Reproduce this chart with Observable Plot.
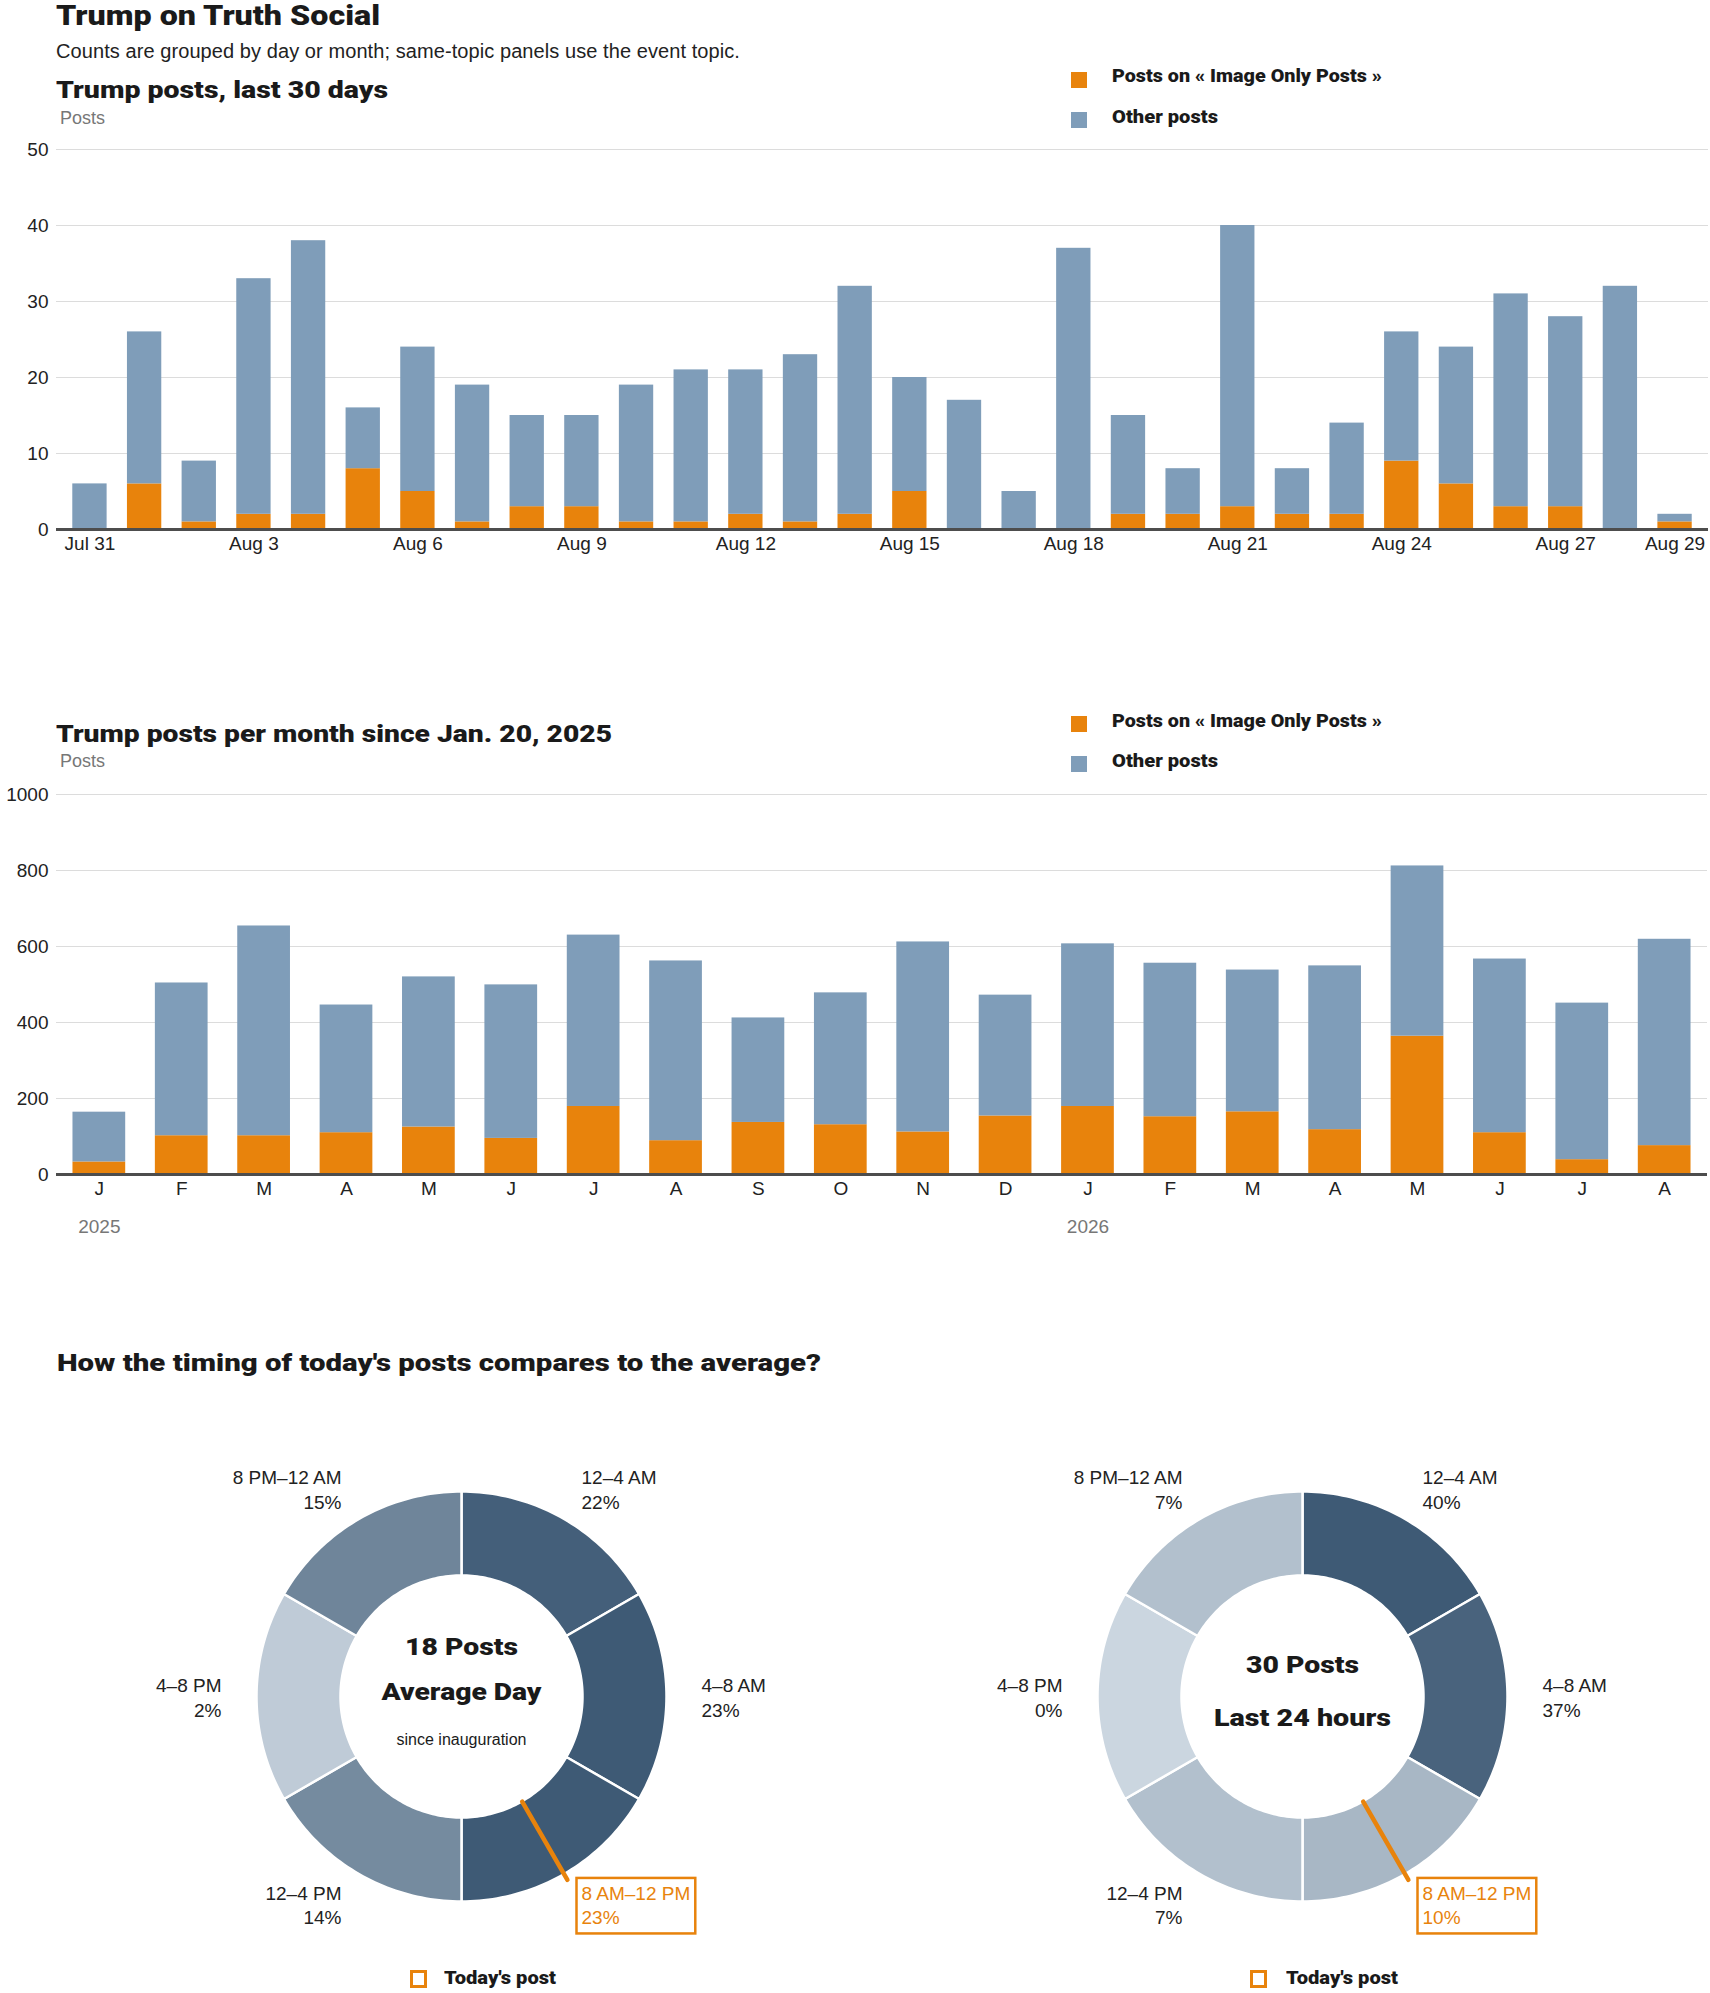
<!DOCTYPE html>
<html><head><meta charset="utf-8">
<script src="https://cdn.jsdelivr.net/npm/d3@7"></script>
<script src="https://cdn.jsdelivr.net/npm/@observablehq/plot@0.6"></script>
<style>
body{margin:0;background:#fff;}
#page{position:relative;width:1710px;height:1993px;overflow:hidden;font-family:"Liberation Sans",Arial,sans-serif;color:#222;}
.t{position:absolute;white-space:nowrap;line-height:1;}
.h{font-family:Roboto,"Liberation Sans",sans-serif;font-weight:900;color:#1a1a1a;}
.sw{position:absolute;width:16px;height:16px;}
.box{position:absolute;width:17px;height:18px;box-sizing:border-box;border:3px solid #e8830c;}
.plotwrap{position:absolute;}
</style></head><body><div id="page"></div>
<script>
// ---------- data ----------
const days = ["Jul 31","Aug 1","Aug 2","Aug 3","Aug 4","Aug 5","Aug 6","Aug 7","Aug 8","Aug 9","Aug 10","Aug 11","Aug 12","Aug 13","Aug 14","Aug 15","Aug 16","Aug 17","Aug 18","Aug 19","Aug 20","Aug 21","Aug 22","Aug 23","Aug 24","Aug 25","Aug 26","Aug 27","Aug 28","Aug 29"];
const dayTicks = ["Jul 31","Aug 3","Aug 6","Aug 9","Aug 12","Aug 15","Aug 18","Aug 21","Aug 24","Aug 27","Aug 29"];
const imagePostsDaily = [0,6,1,2,2,8,5,1,3,3,1,1,2,1,2,5,0,0,0,2,2,3,2,2,9,6,3,3,0,1];
const otherPostsDaily = [6,20,8,31,36,8,19,18,12,12,18,20,19,22,30,15,17,5,37,13,6,37,6,12,17,18,28,25,32,1];
const dailyTicksY = [0,10,20,30,40,50];

const monthKeys = ["2025-01","2025-02","2025-03","2025-04","2025-05","2025-06","2025-07","2025-08","2025-09","2025-10","2025-11","2025-12","2026-01","2026-02","2026-03","2026-04","2026-05","2026-06","2026-07","2026-08"];
const monthLetters = ["J","F","M","A","M","J","J","A","S","O","N","D","J","F","M","A","M","J","J","A"];
const imagePostsMonthly = [33,102,102,110,125,95,179,89,137,131,112,154,179,152,165,118,364,110,39,76];
const otherPostsMonthly = [131,402,552,336,395,404,451,473,275,347,500,318,428,404,373,431,448,457,412,543];
const monthlyTicksY = [0,200,400,600,800,1000];
const yearKeys = ["2025-01","2026-01"];
const yearLabels = ["2025","2026"];

const slots = ["12–4 AM","4–8 AM","8 AM–12 PM","12–4 PM","4–8 PM","8 PM–12 AM"];
const avgShare = [22,23,23,14,2,15];
const last24Share = [40,37,10,7,0,7];
const avgPostsPerDay = 18;
const last24Posts = 30;
const todaySlot = "8 AM–12 PM";
const todayPostHour = 10;

const ORANGE = "#e8830c", BLUE = "#7f9db9";
const HEAVY = "Roboto, 'Liberation Sans', sans-serif";
const page = document.getElementById("page");

// ---------- helpers ----------
function T(str, x, base, size, cls, color, target){
  const d = document.createElement("div");
  const heavy = (cls||"").includes("h");
  d.className = "t " + (cls||"");
  const k = heavy ? 0.842 : 0.8465;
  d.style.left = x + "px";
  d.style.top = (base - k*size) + "px";
  d.style.fontSize = size + "px";
  if (color) d.style.color = color;
  d.textContent = str;
  page.appendChild(d);
  if (target){
    const w = d.getBoundingClientRect().width;
    if (heavy){
      const f = Math.max(0.85, Math.min(1.3, target / w));
      d.style.transformOrigin = "0 0";
      d.style.transform = `scaleX(${f})`;
    } else {
      const ls = Math.max(-1.5, Math.min(2.5, (target - w)/str.length));
      d.style.letterSpacing = ls + "px";
    }
  }
  return d;
}
function SW(x, y, color, cls){
  const d = document.createElement("div");
  d.className = cls || "sw";
  d.style.left = x + "px"; d.style.top = y + "px";
  if (color) d.style.background = color;
  page.appendChild(d);
}
function place(svg, x, y){
  const w = document.createElement("div");
  w.className = "plotwrap"; w.style.left = x + "px"; w.style.top = y + "px";
  w.appendChild(svg); page.appendChild(w);
}
const baseStyle = {fontFamily:"'Liberation Sans', Arial, sans-serif", fontSize:"19px", color:"#222", background:"transparent", overflow:"visible"};

// ---------- headings ----------
T("Trump on Truth Social", 56, 26, 28, "h", null, 324);
T("Counts are grouped by day or month; same-topic panels use the event topic.", 56, 58, 20, "", null, 684);
T("Trump posts, last 30 days", 56, 98, 24, "h", null, 332);
T("Posts", 60, 124, 18, "", "#777");
SW(1071, 72, ORANGE); T("Posts on « Image Only Posts »", 1112, 82.5, 18, "h", null, 270);
SW(1071, 112, BLUE); T("Other posts", 1112, 123, 18, "h", null, 106);

// ---------- chart 1 ----------
const rows1 = days.flatMap((d,i) => [
  {day:d, type:"image", n:imagePostsDaily[i]},
  {day:d, type:"other", n:otherPostsDaily[i]}
]);
const chart1 = Plot.plot({
  width:1710, height:429, marginTop:19, marginBottom:30, marginLeft:56, marginRight:2,
  style: baseStyle,
  x:{domain:days, paddingInner:0.372, paddingOuter:0.298, round:false, label:null},
  y:{domain:[0,50], label:null},
  color:{domain:["image","other"], range:[ORANGE, BLUE]},
  marks:[
    Plot.gridY(dailyTicksY.slice(1), {stroke:"#dcdcdc", strokeOpacity:1}),
    Plot.axisY({ticks:dailyTicksY, tickSize:0, tickPadding:8, label:null, tickFormat:d3.format("d")}),
    Plot.axisX({ticks:dayTicks, tickSize:0, tickPadding:6.5, label:null}),
    Plot.barY(rows1, {x:"day", y:"n", fill:"type"}),
    Plot.ruleY([0], {stroke:"#4d4d4d", strokeWidth:3})
  ]
});
place(chart1, 0, 130);

// ---------- chart 2 ----------
T("Trump posts per month since Jan. 20, 2025", 56, 742, 24, "h", null, 556);
T("Posts", 60, 767, 18, "", "#777");
SW(1071, 716, ORANGE); T("Posts on « Image Only Posts »", 1112, 727, 18, "h", null, 270);
SW(1071, 756, BLUE); T("Other posts", 1112, 767, 18, "h", null, 106);

const rows2 = monthKeys.flatMap((m,i) => [
  {month:m, type:"image", n:imagePostsMonthly[i]},
  {month:m, type:"other", n:otherPostsMonthly[i]}
]);
const years = yearKeys.map((k,i) => ({month:k, label:yearLabels[i]}));
const chart2 = Plot.plot({
  width:1710, height:470, marginTop:20, marginBottom:70, marginLeft:56, marginRight:3,
  style: baseStyle,
  x:{domain:monthKeys, paddingInner:0.36, paddingOuter:0.2, round:false, label:null},
  y:{domain:[0,1000], label:null},
  color:{domain:["image","other"], range:[ORANGE, BLUE]},
  marks:[
    Plot.gridY(monthlyTicksY.slice(1), {stroke:"#dcdcdc", strokeOpacity:1}),
    Plot.axisY({ticks:monthlyTicksY, tickSize:0, tickPadding:8, label:null, tickFormat:d3.format("d")}),
    Plot.axisX({tickSize:0, tickPadding:6.5, label:null, tickFormat:d => monthLetters[monthKeys.indexOf(d)]}),
    Plot.barY(rows2, {x:"month", y:"n", fill:"type"}),
    Plot.ruleY([0], {stroke:"#4d4d4d", strokeWidth:3}),
    Plot.text(years, {x:"month", y:() => 0, text:"label", fill:"#777", fontSize:19, dy:52.4})
  ]
});
place(chart2, 0, 774);

// ---------- donuts ----------
T("How the timing of today's posts compares to the average?", 57, 1371, 24, "h", null, 764);

const PX = 205;              // pixels per unit radius
const W = 800, H = 560;
const R_IN = 121/205, R_OUT = 1, R_LAB = 240/205;
function donut(shares, centerTexts){
  const max = d3.max(shares);
  const pts = [];
  slots.forEach((s,i) => {
    const a0 = i*60, a1 = (i+1)*60, N = 48;
    for (let k=0;k<=N;k++){ const a=(a0+(a1-a0)*k/N)*Math.PI/180; pts.push({slot:s, share:shares[i], x:R_OUT*Math.sin(a), y:R_OUT*Math.cos(a)}); }
    for (let k=N;k>=0;k--){ const a=(a0+(a1-a0)*k/N)*Math.PI/180; pts.push({slot:s, share:shares[i], x:R_IN*Math.sin(a), y:R_IN*Math.cos(a)}); }
  });
  const labels = slots.map((s,i) => {
    const a = (i+0.5)*60*Math.PI/180;
    return {slot:s, text:`${s}\n${shares[i]}%`, x:R_LAB*Math.sin(a), y:R_LAB*Math.cos(a)};
  });
  const needleA = todayPostHour/24*2*Math.PI;
  const needle = [{x1:0.592*Math.sin(needleA), y1:0.592*Math.cos(needleA), x2:1.033*Math.sin(needleA), y2:1.033*Math.cos(needleA)}];
  const plain = labels.filter(d => d.slot !== todaySlot);
  const LBL = {x:"x", y:"y", text:"text", fontSize:19, lineHeight:1.29};
  const svg = Plot.plot({
    width:W, height:H, margin:0,
    style: baseStyle,
    x:{domain:[-W/2/PX, W/2/PX], axis:null},
    y:{domain:[-H/2/PX, H/2/PX], axis:null},
    color:{type:"linear", domain:[0,max], range:["#cbd6e0","#3e5a75"]},
    marks:[
      Plot.line(pts, {x:"x", y:"y", z:"slot", fill:"share", stroke:"white", strokeWidth:2.5, curve:"linear-closed"}),
      Plot.link(needle, {x1:"x1", y1:"y1", x2:"x2", y2:"y2", stroke:ORANGE, strokeWidth:4.5, strokeLinecap:"round"}),
      Plot.text(plain.filter(d => d.x > 0.01), {...LBL, fill:"#222", textAnchor:"start"}),
      Plot.text(plain.filter(d => d.x <= 0.01), {...LBL, fill:"#222", textAnchor:"end"}),
      Plot.text(labels.filter(d => d.slot === todaySlot), {...LBL, fill:ORANGE, textAnchor:"start"}),
      ...centerTexts.map(c => Plot.text([c.text], {x:() => 0, y:() => 0, text:d => d, fontSize:c.size, fontWeight:c.weight,
        fontFamily:c.weight === 900 ? HEAVY : "'Liberation Sans', Arial, sans-serif", fill:"#1a1a1a", dy:c.dy}))
    ]
  });
  return svg;
}
function finish(svg, centerTexts){
  // box round the highlighted slot label
  svg.querySelectorAll('g[aria-label="text"]').forEach(g => {
    if ((g.getAttribute("fill")||"").toLowerCase() === ORANGE){
      const b = g.getBBox();
      const r = document.createElementNS("http://www.w3.org/2000/svg","rect");
      r.setAttribute("x", b.x - 5); r.setAttribute("y", b.y - 5);
      r.setAttribute("width", b.width + 10); r.setAttribute("height", b.height + 10);
      r.setAttribute("fill","none"); r.setAttribute("stroke",ORANGE); r.setAttribute("stroke-width",2.5);
      g.appendChild(r);
    }
  });
  // match centre text widths by stretching glyphs
  svg.querySelectorAll("text").forEach(t => {
    const c = centerTexts.find(c => c.text === t.textContent && c.target);
    if (c){
      t.setAttribute("textLength", c.target);
      t.setAttribute("lengthAdjust", "spacingAndGlyphs");
    }
  });
}
const c1 = [
  {text:`${avgPostsPerDay} Posts`, size:24, weight:900, dy:-48.7, target:113},
  {text:"Average Day", size:24, weight:900, dy:-3.7, target:160},
  {text:"since inauguration", size:16, weight:400, dy:43}
];
const d1 = donut(avgShare, c1);
place(d1, Math.round(460.7 - W/2), 1696 - H/2);
finish(d1, c1);
const c2 = [
  {text:`${last24Posts} Posts`, size:24, weight:900, dy:-30.7, target:113},
  {text:"Last 24 hours", size:24, weight:900, dy:22.3, target:177}
];
const d2 = donut(last24Share, c2);
place(d2, Math.round(1302 - W/2), 1696 - H/2);
finish(d2, c2);

SW(410, 1970, null, "box"); T("Today's post", 444, 1984, 18, "h", null, 112);
SW(1250, 1970, null, "box"); T("Today's post", 1286, 1984, 18, "h", null, 112);
</script></body></html>
